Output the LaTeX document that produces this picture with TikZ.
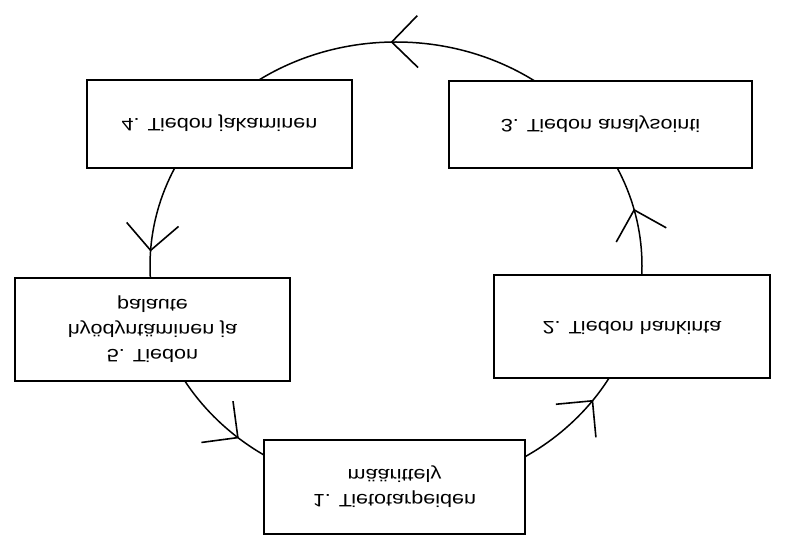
\documentclass[tikz,border=0pt]{standalone}
\usepackage{fontspec}
\setmainfont{Liberation Sans}
\newcommand\fliptext[1]{\scalebox{1.2}[-1]{\fontsize{18}{25}\selectfont\begin{tabular}{@{}c@{}}#1\end{tabular}}}
\tikzset{
  stagebox/.style={draw, fill=white, line width=1.3pt, inner sep=0pt, rectangle},
  cycleline/.style={line width=1.5pt},
  tipline/.style={line width=1.6pt}
}
\begin{document}
\begin{tikzpicture}[x=1pt,y=1pt]
\useasboundingbox (0,0) rectangle (785,550);
\fill[white] (0,0) rectangle (785,550);
\coordinate (c) at (396,284);
\draw[cycleline] (c) ellipse [x radius=246, y radius=224];
\foreach \t in {14.5, 91, 176, 230, 323} {
  \pgfmathsetmacro\ang{atan2(224*cos(\t), -246*sin(\t))}
  \draw[tipline, shift={({396+246*cos(\t)}, {284+224*sin(\t)})}, rotate=\ang]
    (-26,26) -- (0,0) -- (-26,-26);
}
\node[stagebox, minimum width=265, minimum height=88] (b4) at (219.5,426) {\fliptext{4. Tiedon jakaminen}};
\node[stagebox, minimum width=303, minimum height=87] (b3) at (600.5,425.5) {\fliptext{3. Tiedon analysointi}};
\node[stagebox, minimum width=275, minimum height=103] (b5) at (152.5,220.5) {\fliptext{5. Tiedon\\hyödyntäminen ja\\palaute}};
\node[stagebox, minimum width=276, minimum height=103] (b2) at (632,223.5) {\fliptext{2. Tiedon hankinta}};
\node[stagebox, minimum width=261, minimum height=94] (b1) at (394.5,63) {\fliptext{1. Tietotarpeiden\\määrittely}};
\end{tikzpicture}
\end{document}
